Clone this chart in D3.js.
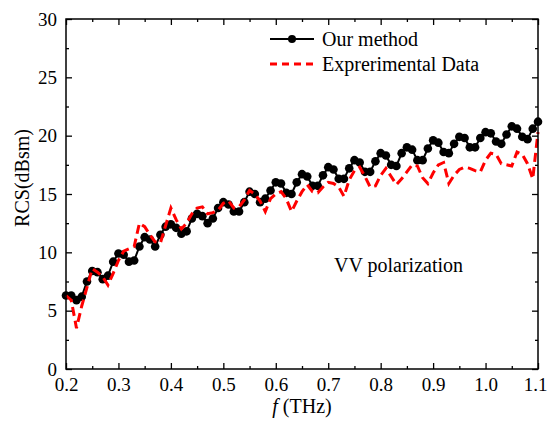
<!DOCTYPE html>
<html>
<head>
<meta charset="utf-8">
<script src="https://cdn.jsdelivr.net/npm/d3@7"></script>
<style>
  body { margin: 0; background: #fff; }
  svg text { font-family: "Liberation Serif", "Times New Roman", serif; fill: #000; }
</style>
</head>
<body>
<div id="chart"></div>
<script>
// frequency grid (THz)
const freq = d3.range(91).map(i => +(0.2 + i * 0.01).toFixed(2));

// "Our method" RCS (dBsm)
const ourMethod = [
  6.3, 6.3, 5.9, 6.2, 7.5, 8.4, 8.3, 7.7, 8.0, 9.2,
  9.9, 9.8, 9.2, 9.3, 10.5, 11.3, 11.1, 10.5, 11.5, 12.2,
  12.4, 12.1, 11.6, 11.8, 12.9, 13.3, 13.1, 12.5, 12.9, 13.8,
  14.3, 14.1, 13.5, 13.5, 14.3, 15.2, 15.0, 14.3, 14.6, 15.3,
  16.0, 15.9, 15.1, 15.0, 16.0, 16.7, 16.5, 15.7, 15.7, 16.6,
  17.3, 17.1, 16.3, 16.3, 17.2, 17.9, 17.7, 16.9, 16.9, 17.8,
  18.5, 18.3, 17.5, 17.4, 18.5, 19.0, 18.8, 17.9, 17.9, 18.9,
  19.6, 19.4, 18.6, 18.5, 19.3, 19.9, 19.8, 19.0, 19.0, 19.8,
  20.3, 20.2, 19.5, 19.3, 20.1, 20.8, 20.6, 19.9, 19.7, 20.6,
  21.2
];

// "Exprerimental Data" RCS (dBsm)
const experimental = [
  6.3, 5.9, 3.5, 5.4, 7.0, 8.6, 8.3, 7.9, 7.2, 8.2,
  9.3, 10.1, 10.3, 10.5, 12.5, 12.2, 11.5, 10.9, 10.8, 12.3,
  13.8, 12.8, 12.0, 12.5, 13.3, 13.8, 13.9, 13.3, 13.4, 13.6,
  14.2, 14.4, 13.8, 13.9, 14.5, 15.3, 15.0, 14.4, 13.5, 14.6,
  15.0, 15.2, 14.6, 13.5, 14.4, 15.2, 15.8, 15.2, 15.1, 15.6,
  16.0, 15.9, 15.6, 14.8, 16.2, 17.0, 17.3, 16.5, 15.6, 15.7,
  16.6, 17.2, 16.5, 15.8, 16.3, 16.9, 17.5, 17.4, 16.4, 15.9,
  16.8, 17.5, 17.7, 15.9, 16.6, 17.1, 17.3, 17.2, 17.0, 16.9,
  17.9, 18.5, 18.4, 17.6, 17.5, 17.4, 18.6, 18.4, 17.6, 16.3,
  20.3
];

const xTicks = [0.2, 0.3, 0.4, 0.5, 0.6, 0.7, 0.8, 0.9, 1.0, 1.1];
const yTicks = [0, 5, 10, 15, 20, 25, 30];
const seriesNames = ["Our method", "Exprerimental Data"];

const W = 548, H = 423;
const margin = { top: 19, right: 10, bottom: 54, left: 66 };
const width = W - margin.left - margin.right;
const height = H - margin.top - margin.bottom;

const svg = d3.select("#chart").append("svg")
  .attr("width", W)
  .attr("height", H);

const g = svg.append("g")
  .attr("transform", `translate(${margin.left},${margin.top})`);

const x = d3.scaleLinear().domain([0.2, 1.1]).range([0, width]);
const y = d3.scaleLinear().domain([0, 30]).range([height, 0]);

const xMinor = d3.range(0.25, 1.1, 0.1).map(d => +d.toFixed(2));
const yMinor = d3.range(2.5, 30, 5);

// data
const line = d3.line().x((d, i) => x(freq[i])).y(d => y(d));

g.append("path")
  .datum(ourMethod)
  .attr("fill", "none")
  .attr("stroke", "#000")
  .attr("stroke-width", 2)
  .attr("d", line);

g.selectAll(".dot")
  .data(ourMethod)
  .join("circle")
  .attr("class", "dot")
  .attr("cx", (d, i) => x(freq[i]))
  .attr("cy", d => y(d))
  .attr("r", 4.3)
  .attr("fill", "#000");

g.append("path")
  .datum(experimental)
  .attr("fill", "none")
  .attr("stroke", "#ff0000")
  .attr("stroke-width", 3)
  .attr("stroke-dasharray", "9,5")
  .attr("d", line);

// axes (inward ticks, mirrored on top/right)
function styleAxis(sel) {
  sel.select(".domain").remove();
  sel.selectAll(".tick line").attr("stroke", "#000").attr("stroke-width", 1.3);
  sel.selectAll(".tick text").style("font-size", "19px");
}

const xAxisG = g.append("g")
  .attr("transform", `translate(0,${height})`)
  .call(d3.axisBottom(x).tickValues(xTicks).tickSize(-6).tickPadding(9)
    .tickFormat(d3.format(".1f")))
  .call(styleAxis);
// last label sits against the page edge
xAxisG.selectAll(".tick text").filter(d => d === 1.1).attr("dx", -3);

g.append("g")
  .attr("transform", `translate(0,${height})`)
  .call(d3.axisBottom(x).tickValues(xMinor).tickSize(-3).tickFormat(""))
  .call(styleAxis);

g.append("g")
  .call(d3.axisLeft(y).tickValues(yTicks).tickSize(-6).tickPadding(9)
    .tickFormat(d3.format("d")))
  .call(styleAxis);
g.append("g")
  .call(d3.axisLeft(y).tickValues(yMinor).tickSize(-3).tickFormat(""))
  .call(styleAxis);

g.append("g")
  .attr("transform", `translate(${width},0)`)
  .call(d3.axisRight(y).tickValues(yTicks).tickSize(-6).tickFormat(""))
  .call(styleAxis);
g.append("g")
  .attr("transform", `translate(${width},0)`)
  .call(d3.axisRight(y).tickValues(yMinor).tickSize(-3).tickFormat(""))
  .call(styleAxis);

g.append("g")
  .call(d3.axisTop(x).tickValues(xTicks).tickSize(-6).tickFormat(""))
  .call(styleAxis);
g.append("g")
  .call(d3.axisTop(x).tickValues(xMinor).tickSize(-3).tickFormat(""))
  .call(styleAxis);

// frame
g.append("rect")
  .attr("width", width)
  .attr("height", height)
  .attr("fill", "none")
  .attr("stroke", "#000")
  .attr("stroke-width", 1.5);

// axis titles
const xt = svg.append("text")
  .attr("x", margin.left + width / 2)
  .attr("y", 413)
  .attr("text-anchor", "middle")
  .style("font-size", "20px");
xt.append("tspan").style("font-style", "italic").text("f");
xt.append("tspan").text(" (THz)");

svg.append("text")
  .attr("transform", "translate(29,178) rotate(-90)")
  .attr("text-anchor", "middle")
  .style("font-size", "20px")
  .text("RCS(dBsm)");

// legend
const leg = svg.append("g").attr("transform", "translate(270,39)");
leg.append("line").attr("x1", 0).attr("x2", 44).attr("y1", 0).attr("y2", 0)
  .attr("stroke", "#000").attr("stroke-width", 2);
leg.append("circle").attr("cx", 22).attr("cy", 0).attr("r", 4).attr("fill", "#000");
leg.append("text").attr("x", 52).attr("y", 7).style("font-size", "20px").text(seriesNames[0]);
leg.append("line").attr("x1", 0).attr("x2", 44).attr("y1", 25).attr("y2", 25)
  .attr("stroke", "#ff0000").attr("stroke-width", 3).attr("stroke-dasharray", "7,5");
leg.append("text").attr("x", 52).attr("y", 32).style("font-size", "20px").text(seriesNames[1]);

svg.append("text")
  .attr("x", 334)
  .attr("y", 272)
  .style("font-size", "20px")
  .text("VV polarization");
</script>
</body>
</html>
